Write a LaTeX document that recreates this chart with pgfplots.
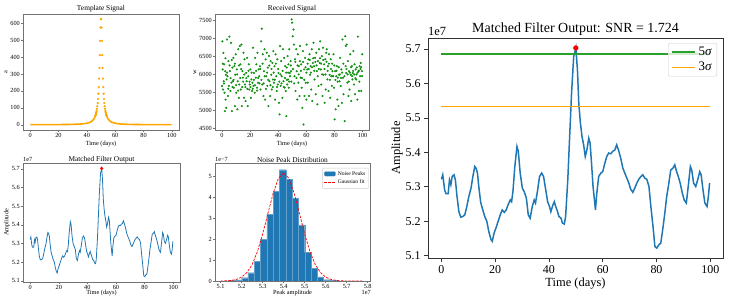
\documentclass[border=0pt]{standalone}
\usepackage{pgfplots}
\pgfplotsset{compat=1.18}
\usepackage{pgfplotstable}
\usepackage{fontspec}
\setmainfont{Liberation Serif}
\definecolor{tabblue}{HTML}{1F77B4}
\definecolor{tabgreen}{HTML}{2CA02C}
\definecolor{mplorange}{HTML}{FFA500}
\definecolor{mplgreen}{HTML}{109010}

\pgfplotstableread{
t v
0 5.322
0.5 5.335
1.2 5.291
1.7 5.280
2.5 5.280
3.0 5.320
3.5 5.306
4.0 5.330
4.7 5.335
5.2 5.320
5.8 5.272
6.5 5.228
7.2 5.212
8.0 5.214
8.7 5.219
9.4 5.241
10.2 5.272
11.0 5.296
11.7 5.330
12.4 5.359
12.9 5.354
13.4 5.340
13.9 5.301
14.6 5.255
15.4 5.233
16.1 5.214
16.9 5.200
17.6 5.171
18.4 5.148
18.9 5.142
19.6 5.166
20.4 5.183
21.1 5.200
21.9 5.219
22.6 5.233
23.4 5.226
24.1 5.233
24.8 5.248
25.6 5.262
26.1 5.257
26.6 5.286
27.3 5.359
28.1 5.417
28.6 5.403
29.3 5.340
30.1 5.296
30.8 5.286
31.6 5.267
32.3 5.219
33.0 5.209
33.8 5.243
34.5 5.262
35.0 5.253
35.8 5.291
36.5 5.330
37.3 5.340
38.0 5.330
38.8 5.291
39.5 5.257
40.2 5.243
40.7 5.228
41.5 5.248
42.0 5.257
42.5 5.243
43.2 5.228
43.7 5.214
44.5 5.209
45.0 5.195
45.7 5.192
46.2 5.214
47.0 5.320
47.7 5.446
48.4 5.571
49.2 5.678
50.0 5.703
50.6 5.639
51.1 5.542
51.7 5.485
52.3 5.446
52.9 5.422
53.5 5.388
54.1 5.407
54.8 5.441
55.3 5.427
55.8 5.373
56.4 5.301
57.3 5.233
57.8 5.282
58.5 5.330
59.3 5.340
60.0 5.344
60.8 5.369
61.5 5.388
62.2 5.398
63.0 5.396
63.7 5.403
64.5 5.407
65.2 5.422
66.0 5.403
66.7 5.383
67.5 5.354
68.2 5.340
69.0 5.325
69.7 5.311
70.4 5.293
71.2 5.284
71.9 5.296
72.7 5.311
73.4 5.322
74.2 5.330
74.9 5.335
75.7 5.325
76.4 5.322
77.2 5.301
77.9 5.243
78.7 5.185
79.4 5.127
80.1 5.122
80.9 5.132
81.6 5.137
82.3 5.175
83.1 5.224
83.8 5.272
84.6 5.311
85.3 5.349
86.1 5.354
86.8 5.364
87.3 5.349
88.1 5.330
88.8 5.311
89.6 5.282
90.3 5.262
91.1 5.253
91.8 5.301
92.6 5.359
93.1 5.349
93.8 5.311
94.6 5.301
95.3 5.320
96.1 5.344
96.6 5.335
97.3 5.291
98.0 5.253
98.8 5.243
99.3 5.272
99.75 5.311
}\mfdata

\pgfplotstableread{
t v
0.0 5680
0.25 6920
0.5 6140
0.75 5580
1.0 6600
1.25 5810
1.5 6280
1.75 5490
2.0 4980
2.25 6090
2.5 5300
2.75 5990
3.0 5070
3.25 5860
3.5 6970
3.85 5950
4.2 5400
4.55 6370
4.9 5680
5.25 7050
5.6 6090
5.95 5540
6.3 6880
6.65 5770
7.0 4980
7.35 6190
7.7 5810
8.0 6460
8.36 5630
8.72 6230
9.08 5120
9.44 5990
9.8 6560
10.16 5490
10.52 6140
10.88 5030
11.24 5810
11.6 6700
11.96 5350
12.32 5720
12.68 6790
13.0 6280
13.375 5580
13.75 6830
14.125 5120
14.5 6090
14.875 5910
15.25 6600
15.625 5350
16.0 6420
16.375 5720
16.75 5260
17.125 6040
17.5 5810
17.875 6460
18.25 5120
18.625 5950
19.0 6280
19.375 5580
19.75 5720
20.125 6140
20.5 5350
20.875 5860
21.25 5540
21.625 5770
22.0 6740
22.4 5680
22.8 6040
23.2 5490
23.6 6460
24.0 5910
24.4 6280
24.8 5630
25.2 6600
25.6 5770
26.0 6140
26.4 5950
27.0 6230
27.4 5580
27.8 6920
28.2 7270
28.6 5720
29.0 6560
29.4 5400
29.8 6090
30.2 6700
30.6 5300
31.0 6420
31.4 5950
31.8 6600
32.2 5680
32.6 6190
33.0 5120
33.4 6510
33.8 5810
34.2 5400
34.6 6370
35.0 5990
35.4 5580
35.8 6320
36.2 5860
36.5 6650
36.9 5770
37.3 6230
37.7 5300
38.1 6560
38.5 5950
38.9 5540
39.3 6420
39.7 5720
40.1 6040
40.5 5210
40.9 4890
41.3 6790
41.7 5680
42.1 6370
42.5 5950
42.9 5350
43.3 6700
43.7 5810
44.1 6460
44.5 5630
44.9 6230
45.3 5540
45.7 4840
46.0 6190
46.3 5720
46.6 6510
46.9 5860
47.2 6280
47.5 5630
47.8 6700
48.1 6040
48.4 5950
48.7 6370
49.0 6090
49.5 7530
49.75 7440
50.3 7060
50.8 7250
51.1 6830
51.5 5950
51.9 6420
52.3 5540
52.7 6700
53.1 6090
53.5 5300
53.9 6560
54.3 5770
54.7 6230
55.1 5400
55.3 6370
55.5 6790
55.9 5910
56.3 6280
56.7 5630
57.1 5070
57.5 6650
57.9 4610
58.3 6140
58.7 5400
59.1 6460
59.5 5770
59.9 5300
60.2 6830
60.6 6140
61.0 5770
61.4 6420
61.8 5400
62.2 6560
62.6 5990
63.0 6230
63.4 5580
63.8 6700
64.2 5260
64.6 6320
65.0 6880
65.4 6230
65.8 5860
66.2 6460
66.6 5450
67.0 6600
67.4 6090
67.8 5170
68.2 6370
68.6 5680
69.0 6700
69.4 6320
69.8 6920
70.2 6140
70.6 5720
71.0 6510
71.4 5400
71.8 6740
72.2 5990
72.6 6280
73.0 5210
73.4 6420
73.8 5580
74.1 6600
74.5 6700
74.9 5860
75.3 6230
75.7 5540
76.1 6560
76.5 5990
76.9 5350
77.3 6420
77.7 5950
78.1 5680
78.5 6090
78.9 5950
79.2 6560
79.6 5630
80.0 4750
80.4 6090
80.8 5030
81.2 5950
81.6 6230
82.0 5300
82.4 5910
82.8 5120
83.2 5990
83.6 5810
84.0 6460
84.4 5680
84.8 6140
85.2 5210
85.6 6970
86.0 5910
86.4 5450
87.2 4700
87.6 7060
87.9 6230
88.0 6790
88.3 6040
88.7 6830
89.1 5770
89.5 6370
89.9 5400
90.3 6090
90.7 5580
91.1 6560
91.5 5990
91.9 5260
92.3 6230
92.7 5860
93.0 6040
93.4 6650
93.8 5720
94.2 6280
94.6 5450
95.0 6140
95.4 5860
95.8 6190
96.2 5300
96.6 7050
97.0 6090
97.4 5540
97.8 6230
98.2 5950
98.6 6320
99.0 5540
99.4 6090
99.7 6560
0.6 6300
1.4 5750
2.4 6450
3.6 6050
4.4 5600
5.4 6250
6.1 5900
6.9 6400
7.5 5650
8.2 5850
9.2 6300
10.0 5700
10.7 6000
11.4 5550
12.1 6250
12.9 5900
13.6 6150
14.3 5650
15.0 5800
15.8 6000
16.6 5650
17.3 5900
18.0 5600
18.8 6100
19.6 5800
20.3 5650
21.0 6050
21.8 5600
22.6 5850
23.4 5700
24.2 6100
25.0 5550
25.8 5900
26.6 5750
27.2 6150
28.0 5850
28.8 6300
29.6 5750
30.4 5950
31.2 5600
32.0 6050
32.8 5850
33.6 6250
34.4 5700
35.2 6150
36.0 5650
36.7 6050
37.5 5850
38.3 6300
39.1 5650
39.9 6150
40.7 5800
41.5 6000
42.3 5750
43.1 6100
43.9 5650
44.7 5900
45.5 6050
46.1 5850
47.0 6050
47.7 5800
48.9 6250
49.3 5800
50.5 6150
51.3 5750
52.1 6350
52.9 5900
53.7 6250
54.5 6000
56.1 6100
56.9 5900
57.7 6350
58.5 5850
59.3 6200
60.0 6050
60.8 6300
61.6 6150
62.4 6400
63.2 6050
64.0 6200
64.8 6450
65.6 6100
66.4 6350
67.2 6250
68.0 5950
68.8 6150
69.6 6450
70.4 6300
71.2 6000
72.0 6400
72.8 6150
73.6 6000
74.3 6350
75.1 6100
75.9 6300
76.7 5850
77.5 6150
78.3 6300
79.0 5950
79.8 6250
80.6 5850
81.4 6100
82.2 5800
83.0 6200
83.8 6000
84.6 5900
85.4 6050
86.2 6300
87.0 5950
88.5 6150
89.3 6000
90.1 5800
90.9 6050
91.7 6200
92.5 5950
93.2 6100
94.0 6000
94.8 5900
95.6 6000
96.4 6050
97.2 6100
97.6 5800
98.4 6150
98.9 6200
99.6 5950
}\rxdata

\pgfplotsset{
  /pgf/number format/assume math mode=true,
  base/.style={scale only axis, anchor=south west, tick align=outside,
    xtick pos=left, ytick pos=left, scaled ticks=false, clip mode=individual,
    /pgf/number format/1000 sep={}},
  small/.style={base, axis line style={black!55, line width=0.45bp},
    major tick style={black!55, line width=0.45bp}, major tick length=2bp,
    tick label style={font=\fontsize{6.3}{7}\selectfont, inner sep=1bp}},
  big/.style={base, axis line style={black!80, line width=0.8bp},
    major tick style={black!80, line width=0.8bp}, major tick length=4bp,
    tick label style={font=\fontsize{12}{14}\selectfont}},
  biglegimg/.style={legend image code/.code={\draw[##1] (0bp,0bp) -- (23bp,0bp);}},
  histbarimg/.style={legend image code/.code={\fill[tabblue] (0bp,-2.2bp) rectangle (11bp,2.2bp);}},
  histlineimg/.style={legend image code/.code={\draw[red, line width=0.7bp, dash pattern=on 2.5bp off 1.3bp] (0bp,0bp) -- (11bp,0bp);}},
}
\newcommand{\smallfont}{\fontsize{6.3}{7}\selectfont}
\newcommand{\smalltitle}{\fontsize{7.4}{8}\selectfont}
\newcommand{\bigfont}{\fontsize{12.5}{14}\selectfont}

\begin{document}
\begin{tikzpicture}
\path[use as bounding box] (0,0) rectangle (734bp,301bp);

% ---------- Template Signal ----------
\begin{axis}[small, at={(23bp,171bp)}, width=156bp, height=116bp,
  xmin=-5, xmax=105, ymin=-31, ymax=654,
  xtick={0,20,...,100}, ytick={0,100,...,600},
  title={Template Signal}, xlabel={Time (days)}, ylabel={a},
  every axis title/.style={at={(axis description cs:0.5,1.046)}, anchor=center, font=\smalltitle},
  every axis x label/.style={at={(axis description cs:0.5,-0.121)}, anchor=center, font=\smallfont},
  every axis y label/.style={at={(axis description cs:-0.109,0.5)}, rotate=90, anchor=center, font=\smallfont}]
\addplot[mplorange, line width=1.6bp] coordinates {
(0.125,0.365) (2.125,0.40) (5.125,0.45) (8.125,0.52) (11.125,0.60) (14.125,0.70)
(17.125,0.84) (20.125,1.01) (22.125,1.17) (24.125,1.35) (26.125,1.59) (28.125,1.89)
(30.125,2.29) (31.125,2.54) (32.125,2.83) (33.125,3.17) (34.125,3.58) (35.125,4.07)
(36.125,4.68) (37.125,5.43) (38.125,6.37) (39.125,7.58) (40.125,9.17) (40.625,10.2)
(41.125,11.3) (41.625,12.7) (42.125,14.3) (42.625,16.25) (43.125,18.6) (43.625,21.6)
(44.125,25.2) (44.625,29.9) (45.125,36.0) (45.375,39.7) (45.625,44.1) (45.875,49.2)
(46.125,55.1) (46.375,62.2) (46.625,70.7) (46.875,81.0)};
\addplot[mplorange, line width=1.6bp] coordinates {
(53.125,81.0) (53.375,70.7) (53.625,62.2) (53.875,55.1) (54.125,49.2) (54.375,44.1)
(54.625,39.7) (54.875,36.0) (55.375,29.9) (55.875,25.2) (56.375,21.6) (56.875,18.6)
(57.375,16.25) (57.875,14.3) (58.375,12.7) (58.875,11.3) (59.375,10.2) (59.875,9.17)
(60.875,7.58) (61.875,6.37) (62.875,5.43) (63.875,4.68) (64.875,4.07) (65.875,3.58)
(66.875,3.17) (67.875,2.83) (68.875,2.54) (69.875,2.29) (71.875,1.89) (73.875,1.59)
(75.875,1.35) (77.875,1.17) (79.875,1.01) (82.875,0.84) (85.875,0.70) (88.875,0.60)
(91.875,0.52) (94.875,0.45) (97.875,0.40) (99.875,0.365)};
\addplot[only marks, mark=*, mark size=0.9bp, mark options={fill=mplorange, draw=mplorange}] coordinates {
(46.125,55.1) (46.375,62.2) (46.625,70.7) (46.875,81.0)
(47.125,93.5) (47.375,108.9) (47.625,128.1) (47.875,152.3) (48.125,183.1) (48.375,222.3)
(48.625,272.4) (48.875,335.3) (49.125,411.3) (49.375,495.6) (49.625,573.9) (49.875,623.2)
(50.125,623.2) (50.375,573.9) (50.625,495.6) (50.875,411.3) (51.125,335.3) (51.375,272.4)
(51.625,222.3) (51.875,183.1) (52.125,152.3) (52.375,128.1) (52.625,108.9) (52.875,93.5)
(53.125,81.0) (53.375,70.7) (53.625,62.2) (53.875,55.1)};
\end{axis}

% ---------- Received Signal ----------
\begin{axis}[small, at={(215bp,171bp)}, width=154bp, height=116bp,
  xmin=-5, xmax=104.5, ymin=4455, ymax=7680,
  xtick={0,20,...,100}, ytick={4500,5000,...,7500},
  title={Received Signal}, xlabel={Time (days)}, ylabel={w},
  every axis title/.style={at={(axis description cs:0.5,1.046)}, anchor=center, font=\smalltitle},
  every axis x label/.style={at={(axis description cs:0.5,-0.121)}, anchor=center, font=\smallfont},
  every axis y label/.style={at={(axis description cs:-0.13,0.5)}, rotate=90, anchor=center, font=\smallfont}]
\addplot[only marks, mark=*, mark size=0.85bp, mark options={fill=mplgreen, draw=mplgreen}] table[x=t, y=v] {\rxdata};
\end{axis}

% ---------- Matched Filter Output (small) ----------
\begin{axis}[small, at={(23bp,19bp)}, width=157bp, height=119bp,
  xmin=-4.99, xmax=104.74, ymin=5.0935, ymax=5.732,
  xtick={0,20,...,100}, ytick={5.1,5.2,5.3,5.4,5.5,5.6,5.7},
  yticklabel style={/pgf/number format/.cd, fixed, fixed zerofill, precision=1},
  title={Matched Filter Output}, xlabel={Time (days)}, ylabel={Amplitude},
  every axis title/.style={at={(axis description cs:0.5,1.028)}, anchor=center, font=\smalltitle},
  every axis x label/.style={at={(axis description cs:0.5,-0.095)}, anchor=center, font=\smallfont},
  every axis y label/.style={at={(axis description cs:-0.102,0.5)}, rotate=90, anchor=center, font=\smallfont}]
\addplot[tabblue, line width=0.8bp] table[x=t, y=v] {\mfdata};
\addplot[only marks, mark=*, mark size=1.4bp, mark options={fill=red, draw=red}] coordinates {(50.0,5.703)};
\node[anchor=base west, inner sep=0pt, font=\smallfont] at (rel axis cs:0,1) [yshift=1.2bp] {1e7};
\end{axis}

% ---------- Noise Peak Distribution ----------
\begin{axis}[small, at={(215bp,20bp)}, width=155bp, height=118bp,
  xmin=5.073, xmax=5.811, ymin=0, ymax=5.62,
  xtick={5.1,5.2,5.3,5.4,5.5,5.6,5.7,5.8}, ytick={0,1,2,3,4,5},
  xticklabel style={/pgf/number format/.cd, fixed, fixed zerofill, precision=1},
  title={Noise Peak Distribution}, xlabel={Peak amplitude},
  every axis title/.style={at={(axis description cs:0.5,1.028)}, anchor=center, font=\smalltitle},
  every axis x label/.style={at={(axis description cs:0.5,-0.104)}, anchor=center, font=\smallfont},
  legend style={at={(0.993,0.958)}, anchor=north east, font=\fontsize{5.6}{6}\selectfont,
    draw=black!20, rounded corners=1bp, inner xsep=1.5bp, inner ysep=1bp, row sep=-0.5bp},
  legend cell align=left]
\addplot[ybar interval, fill=tabblue, draw=tabblue!70!white, line width=0.2bp, histbarimg] coordinates {
(5.14,0.02) (5.17,0.05) (5.20,0.16) (5.23,0.40) (5.26,0.94) (5.29,1.98) (5.32,3.18)
(5.35,4.27) (5.38,5.30) (5.41,4.85) (5.44,3.95) (5.47,2.67) (5.50,1.36) (5.53,0.60)
(5.56,0.20) (5.59,0.06) (5.62,0.02) (5.65,0)};
\addlegendentry{Noise Peaks}
\addplot[red, line width=0.7bp, dash pattern=on 2.5bp off 1.3bp, histlineimg] coordinates {
(5.10,0.003) (5.125,0.0095) (5.15,0.028) (5.175,0.076) (5.20,0.184) (5.225,0.403)
(5.25,0.79) (5.275,1.40) (5.30,2.24) (5.325,3.22) (5.35,4.18) (5.375,4.89) (5.40,5.15)
(5.425,4.89) (5.45,4.18) (5.475,3.22) (5.50,2.24) (5.525,1.40) (5.55,0.79) (5.575,0.403)
(5.60,0.184) (5.625,0.076) (5.65,0.028) (5.675,0.0095) (5.70,0.003) (5.75,0.0) (5.78,0.0)};
\addlegendentry{Gaussian fit}
\node[anchor=base west, inner sep=0pt, font=\smallfont] at (rel axis cs:0,1) [yshift=1.2bp] {1e−7};
\node[anchor=north east, inner sep=0pt, font=\smallfont] at (rel axis cs:1,0) [yshift=-9.5bp, xshift=1bp] {1e7};
\end{axis}

% ---------- Big Matched Filter Output ----------
\begin{axis}[big, at={(428bp,43bp)}, width=295bp, height=220bp,
  xmin=-4.99, xmax=104.74, ymin=5.0935, ymax=5.732,
  xtick={0,20,...,100}, ytick={5.1,5.2,5.3,5.4,5.5,5.6,5.7},
  yticklabel style={/pgf/number format/.cd, fixed, fixed zerofill, precision=1},
  title={Matched Filter Output: SNR = 1.724}, xlabel={Time (days)}, ylabel={Amplitude},
  every axis title/.style={at={(axis description cs:0.5,1.041)}, anchor=center, font=\fontsize{14}{16}\selectfont},
  every axis x label/.style={at={(axis description cs:0.5,-0.114)}, anchor=center, font=\bigfont},
  every axis y label/.style={at={(axis description cs:-0.105,0.5)}, rotate=90, anchor=center, font=\bigfont},
  legend style={at={(0.98,0.977)}, anchor=north east, font=\fontsize{13}{14}\selectfont,
    draw=black!20, rounded corners=2bp, fill=white, fill opacity=0.8, text opacity=1, draw opacity=1,
    inner xsep=3bp, inner ysep=2bp, row sep=1bp},
  legend cell align=left, biglegimg]
\addplot[tabblue, line width=1.5bp, forget plot] table[x=t, y=v] {\mfdata};
\addplot[tabgreen, line width=1.9bp, forget plot] coordinates {(0,5.6855) (100,5.6855)};
\addplot[mplorange, line width=1.1bp, forget plot] coordinates {(0,5.532) (100,5.532)};
\addplot[only marks, mark=*, mark size=2.4bp, mark options={fill=red, draw=red}, forget plot] coordinates {(50.0,5.703)};
\addlegendimage{draw=tabgreen, line width=2.4bp}
\addlegendentry{5\textit{σ}}
\addlegendimage{draw=mplorange, line width=1.3bp, opacity=1}
\addlegendentry{3\textit{σ}}
\node[anchor=base west, inner sep=0pt, font=\bigfont] at (rel axis cs:0,1) [yshift=2bp] {1e7};
\end{axis}
\end{tikzpicture}
\end{document}
